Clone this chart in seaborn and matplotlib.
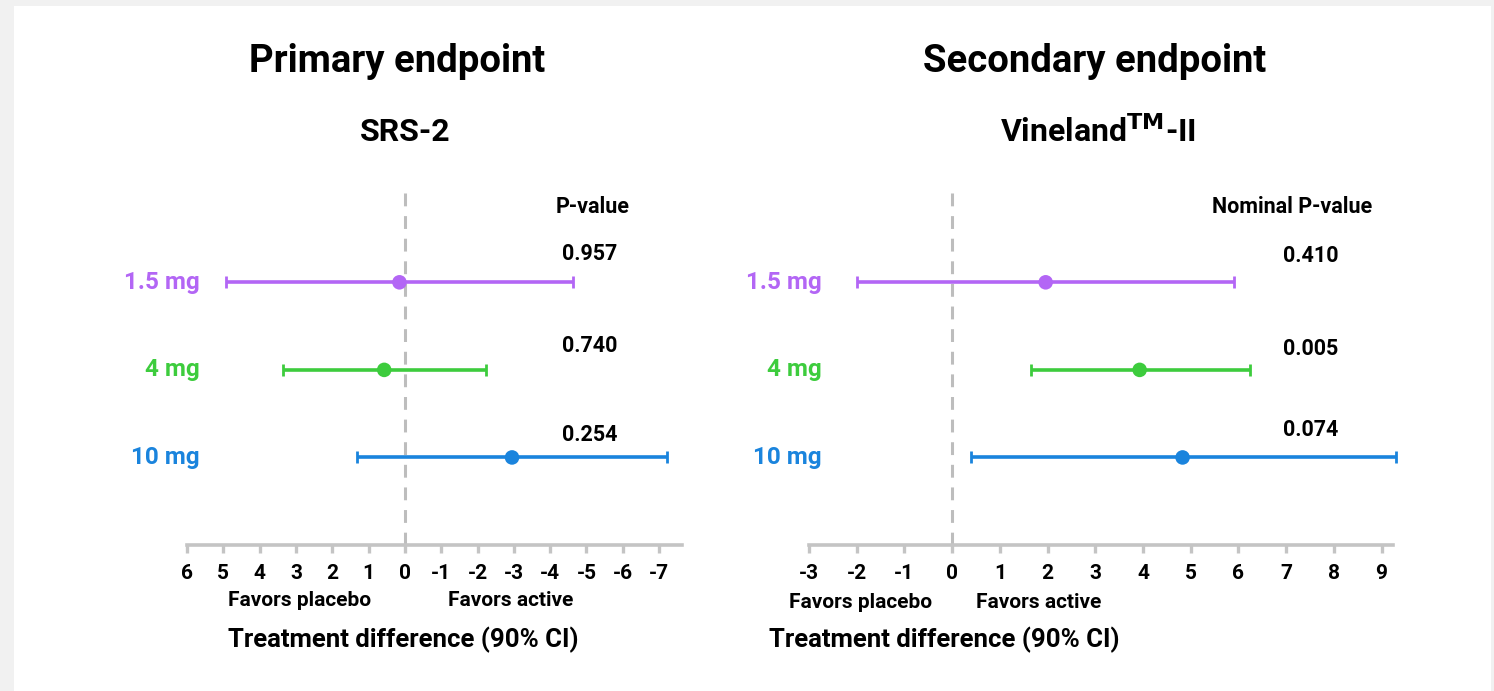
import matplotlib
matplotlib.use("Agg")
import matplotlib.pyplot as plt
from matplotlib import font_manager
from matplotlib.patches import Rectangle
import seaborn as sns
import pandas as pd

# ---- data -------------------------------------------------------------
doses = ["1.5 mg", "4 mg", "10 mg"]
dose_colors = ["#b366f5", "#3dcc3d", "#1a84dd"]

srs_est = [0.15, 0.57, -2.95]
srs_lo = [4.92, 3.37, 1.33]
srs_hi = [-4.64, -2.24, -7.21]
srs_p = ["0.957", "0.740", "0.254"]
srs_ticks = [6, 5, 4, 3, 2, 1, 0, -1, -2, -3, -4, -5, -6, -7]

vin_est = [1.96, 3.93, 4.83]
vin_lo = [-1.99, 1.66, 0.40]
vin_hi = [5.91, 6.25, 9.31]
vin_p = ["0.410", "0.005", "0.074"]
vin_ticks = [-3, -2, -1, 0, 1, 2, 3, 4, 5, 6, 7, 8, 9]

# ---- style ------------------------------------------------------------
sns.set_theme(style="white")
names = {f.name for f in font_manager.fontManager.ttflist}
narrow = "Liberation Sans Narrow" if "Liberation Sans Narrow" in names else "Roboto"
plt.rcParams["font.family"] = [narrow, "DejaVu Sans"]
plt.rcParams["font.weight"] = "bold"
plt.rcParams["text.color"] = "black"

AXIS_GRAY = "#c4c4c4"
W, H = 1494, 691
fig = plt.figure(figsize=(W / 100, H / 100), dpi=100)
fig.patch.set_facecolor("#f1f1f1")
fig.patches.append(Rectangle((14 / W, 0), (1491 - 14) / W, 1 - 6 / H,
                             transform=fig.transFigure, facecolor="white",
                             edgecolor="none", zorder=-10))


def px_axes(x0, x1, y0, y1):
    return fig.add_axes([x0 / W, 1 - y1 / H, (x1 - x0) / W, (y1 - y0) / H])


def forest(ax, est, lo, hi, xlim, ticks):
    df = pd.DataFrame({"dose": doses, "est": est, "pos": range(len(doses))})
    for i, (l, h, c) in enumerate(zip(lo, hi, dose_colors)):
        ax.errorbar([(l + h) / 2], [i], xerr=[[abs(h - l) / 2]], fmt="none",
                    ecolor=c, elinewidth=2.6, capsize=4.5, capthick=2.0,
                    zorder=3, clip_on=False)
    sns.scatterplot(data=df, x="est", y="pos", hue="dose", palette=dose_colors,
                    s=110, edgecolor="none", legend=False, zorder=4, ax=ax,
                    clip_on=False)
    ax.axvline(0, color="#bdbdbd", lw=2.2, ls=(0, (4.2, 3.2)), zorder=1)
    ax.set_xlim(*xlim)
    ax.set_ylim(3.0, -1.02)
    ax.set_xticks(ticks)
    ax.set_xticklabels([str(t) for t in ticks], fontsize=15,
                       fontweight="bold", color="black")
    ax.set_yticks([])
    ax.set_xlabel("")
    ax.set_ylabel("")
    for s in ["top", "right", "left"]:
        ax.spines[s].set_visible(False)
    ax.spines["bottom"].set_color(AXIS_GRAY)
    ax.spines["bottom"].set_linewidth(2.6)
    ax.tick_params(axis="x", direction="out", length=6, width=2.4,
                   color=AXIS_GRAY, pad=8, bottom=True)
    ax.set_facecolor("none")


# Primary endpoint: SRS-2 (axis runs from placebo-favoured to active-favoured)
ax1 = px_axes(187, 682, 193, 545)
forest(ax1, srs_est, srs_lo, srs_hi, (6, -7.63), srs_ticks)

# Secondary endpoint: Vineland-II
ax2 = px_axes(809, 1393, 193, 545)
forest(ax2, vin_est, vin_lo, vin_hi, (-3, 9.24), vin_ticks)


def ftext(x, y, s, **kw):
    fig.text(x / W, 1 - y / H, s, ha=kw.pop("ha", "center"),
             va=kw.pop("va", "center"), fontweight=kw.pop("fontweight", "bold"),
             color="black", **kw)


# titles
ftext(397, 62, "Primary endpoint", fontsize=27.5, family=["Roboto", "DejaVu Sans"])
ftext(405, 132, "SRS-2", fontsize=23, family=["Roboto", "DejaVu Sans"])
ftext(1095, 62, "Secondary endpoint", fontsize=27.5, family=["Roboto", "DejaVu Sans"])
ftext(1098, 132, r"Vineland$^{\mathbf{TM}}$-II", fontsize=23,
      family=["Roboto", "DejaVu Sans"])

# dose labels and p-values
for ax, px_right, pcol_x, header, header_x, pvals, p_y in [
    (ax1, 200, 590, "P-value", 593, srs_p, [254, 346, 435]),
    (ax2, 822, 1311, "Nominal P-value", 1292, vin_p, [256, 349, 430]),
]:
    for i, (d, c) in enumerate(zip(doses, dose_colors)):
        ypx = ax.transData.transform((0, i))[1]
        fig.text(px_right / W, ypx / fig.bbox.height, d, ha="right",
                 va="center", color=c, fontsize=17.5, fontweight="bold")
    ftext(header_x, 207, header, fontsize=15.5)
    for yy, p in zip(p_y, pvals):
        ftext(pcol_x, yy, p, fontsize=15.5)

# direction labels and axis titles
ftext(300, 601, "Favors placebo", fontsize=15)
ftext(511, 601, "Favors active", fontsize=15)
ftext(403, 640, "Treatment difference (90% CI)", fontsize=18.5)
ftext(861, 602, "Favors placebo", fontsize=15)
ftext(1039, 602, "Favors active", fontsize=15)
ftext(944, 640, "Treatment difference (90% CI)", fontsize=18.5)

fig.savefig("out.png", dpi=100, facecolor=fig.get_facecolor())
